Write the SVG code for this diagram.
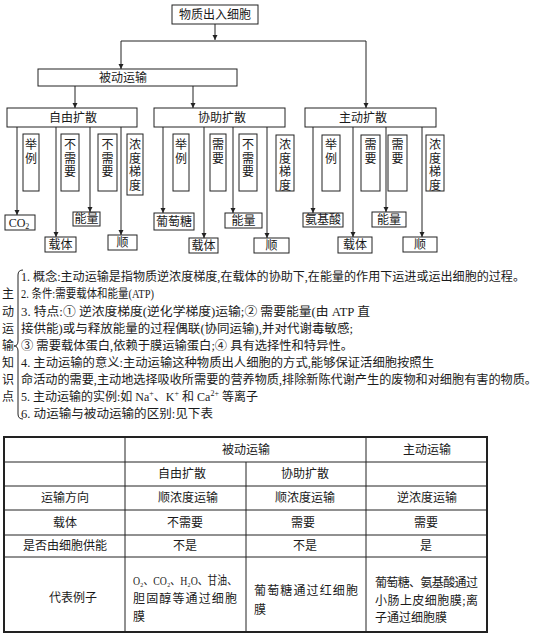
<svg xmlns="http://www.w3.org/2000/svg" width="538" height="639" viewBox="0 0 538 639">
<defs>
<marker id="ah" markerWidth="6" markerHeight="6" refX="5" refY="3" orient="auto" markerUnits="userSpaceOnUse">
<path d="M0,0.5 L5,3 L0,5.5 Z" fill="#222"/>
</marker>
<style>
.bx{fill:#fff;stroke:#222;stroke-width:1}
.ln{fill:none;stroke:#222;stroke-width:1}
.ar{fill:none;stroke:#222;stroke-width:1;marker-end:url(#ah)}
.t{font-family:"Liberation Serif","Noto Sans CJK SC",serif;font-size:12px;fill:#1a1a1a;text-anchor:middle;dominant-baseline:central}
.tl{font-family:"Liberation Serif","Noto Sans CJK SC",serif;font-size:12px;fill:#1a1a1a;dominant-baseline:central}
.tb{stroke:#222;stroke-width:1;fill:none}
</style>
</defs>
<rect width="538" height="639" fill="#fff"/>

<g id="connectors">
<line class="ar" x1="215" y1="24" x2="215" y2="40"/>
<line class="ln" x1="121" y1="41" x2="366" y2="41"/>
<line class="ar" x1="121" y1="41" x2="121" y2="69"/>
<line class="ar" x1="366" y1="41" x2="366" y2="108"/>
<line class="ar" x1="75" y1="86" x2="75" y2="108"/>
<line class="ar" x1="193" y1="86" x2="193" y2="108"/>
<line class="ar" x1="17" y1="127" x2="17" y2="215"/>
<line class="ar" x1="56" y1="127" x2="56" y2="237"/>
<line class="ar" x1="90" y1="127" x2="90" y2="212"/>
<line class="ar" x1="121" y1="127" x2="121" y2="235"/>
<line class="ar" x1="163" y1="127" x2="163" y2="213"/>
<line class="ar" x1="204" y1="127" x2="204" y2="238"/>
<line class="ar" x1="233" y1="127" x2="233" y2="213"/>
<line class="ar" x1="267" y1="127" x2="267" y2="238"/>
<line class="ar" x1="313" y1="127" x2="313" y2="213"/>
<line class="ar" x1="353" y1="127" x2="353" y2="237"/>
<line class="ar" x1="386" y1="127" x2="386" y2="212"/>
<line class="ar" x1="422" y1="127" x2="422" y2="237"/>
</g>

<g id="n-root"><rect class="bx" x="172" y="5" width="86" height="19"/><text class="t" x="215" y="15">物质出入细胞</text></g>
<g id="n-passive"><rect class="bx" x="38" y="69" width="199" height="17"/><text class="t" x="123" y="78">被动运输</text></g>
<g id="n-free"><rect class="bx" x="7" y="108" width="130" height="19"/><text class="t" x="73" y="118">自由扩散</text></g>
<g id="n-facil"><rect class="bx" x="154" y="108" width="131" height="19"/><text class="t" x="222" y="118">协助扩散</text></g>
<g id="n-active"><rect class="bx" x="305" y="108" width="131" height="19"/><text class="t" x="363" y="118">主动扩散</text></g>

<g id="l-free-1"><rect class="bx" x="23" y="134" width="16" height="57"/><text class="t" x="31" y="145">举</text><text class="t" x="31" y="158.5">例</text></g>
<g id="l-free-2"><rect class="bx" x="61" y="134" width="18" height="57"/><text class="t" x="70" y="145">不</text><text class="t" x="70" y="158.5">需</text><text class="t" x="70" y="172">要</text></g>
<g id="l-free-3"><rect class="bx" x="98" y="134" width="19" height="57"/><text class="t" x="107.5" y="145">不</text><text class="t" x="107.5" y="158.5">需</text><text class="t" x="107.5" y="172">要</text></g>
<g id="l-free-4"><rect class="bx" x="127" y="134" width="16" height="61"/><text class="t" x="135" y="145">浓</text><text class="t" x="135" y="158.5">度</text><text class="t" x="135" y="172">梯</text><text class="t" x="135" y="185.5">度</text></g>

<g id="l-fac-1"><rect class="bx" x="173" y="134" width="16" height="57"/><text class="t" x="181" y="145">举</text><text class="t" x="181" y="158.5">例</text></g>
<g id="l-fac-2"><rect class="bx" x="210" y="134" width="16" height="57"/><text class="t" x="218" y="145">需</text><text class="t" x="218" y="158.5">要</text></g>
<g id="l-fac-3"><rect class="bx" x="239" y="134" width="18" height="57"/><text class="t" x="248" y="145">不</text><text class="t" x="248" y="158.5">需</text><text class="t" x="248" y="172">要</text></g>
<g id="l-fac-4"><rect class="bx" x="276" y="135" width="18" height="56"/><text class="t" x="285" y="145">浓</text><text class="t" x="285" y="158.5">度</text><text class="t" x="285" y="172">梯</text><text class="t" x="285" y="185.5">度</text></g>

<g id="l-act-1"><rect class="bx" x="322" y="135" width="18" height="56"/><text class="t" x="331" y="145">举</text><text class="t" x="331" y="158.5">例</text></g>
<g id="l-act-2"><rect class="bx" x="361" y="135" width="19" height="56"/><text class="t" x="370.5" y="145">需</text><text class="t" x="370.5" y="158.5">要</text></g>
<g id="l-act-3"><rect class="bx" x="388" y="135" width="19" height="56"/><text class="t" x="397.5" y="145">需</text><text class="t" x="397.5" y="158.5">要</text></g>
<g id="l-act-4"><rect class="bx" x="426" y="135" width="18" height="56"/><text class="t" x="435" y="145">浓</text><text class="t" x="435" y="158.5">度</text><text class="t" x="435" y="172">梯</text><text class="t" x="435" y="185.5">度</text></g>

<g id="b-co2"><rect class="bx" x="5" y="215" width="30" height="15"/><text class="t" x="19" y="222.5">CO<tspan font-size="8" dy="3">2</tspan></text></g>
<g id="b-carrier1"><rect class="bx" x="45" y="237" width="31" height="15"/><text class="t" x="60.5" y="244.5">载体</text></g>
<g id="b-energy1"><rect class="bx" x="73" y="212" width="27" height="14"/><text class="t" x="86.5" y="219">能量</text></g>
<g id="b-along1"><rect class="bx" x="108" y="235" width="29" height="15"/><text class="t" x="122.5" y="242.5">顺</text></g>
<g id="b-glucose"><rect class="bx" x="154" y="213" width="40" height="17"/><text class="t" x="174" y="221.5">葡萄糖</text></g>
<g id="b-carrier2"><rect class="bx" x="189" y="238" width="29" height="15"/><text class="t" x="203.5" y="245.5">载体</text></g>
<g id="b-energy2"><rect class="bx" x="225" y="213" width="37" height="15"/><text class="t" x="243.5" y="220.5">能量</text></g>
<g id="b-along2"><rect class="bx" x="254" y="238" width="35" height="15"/><text class="t" x="271.5" y="245.5">顺</text></g>
<g id="b-amino"><rect class="bx" x="303" y="213" width="40" height="14"/><text class="t" x="323" y="220">氨基酸</text></g>
<g id="b-carrier3"><rect class="bx" x="338" y="237" width="34" height="16"/><text class="t" x="355" y="245">载体</text></g>
<g id="b-energy3"><rect class="bx" x="372" y="212" width="34" height="15"/><text class="t" x="389" y="219.5">能量</text></g>
<g id="b-along3"><rect class="bx" x="403" y="237" width="34" height="15"/><text class="t" x="420" y="244.5">顺</text></g>

<g id="knowledge">
<text class="t" x="8" y="294">主</text>
<text class="t" x="8" y="312">动</text>
<text class="t" x="8" y="329">运</text>
<text class="t" x="8" y="346">输</text>
<text class="t" x="8" y="363">知</text>
<text class="t" x="8" y="380">识</text>
<text class="t" x="8" y="397">点</text>
<path class="ln" d="M23,270 Q18,270 18,275 L18,341 Q18,346 14,346 Q18,346 18,351 L18,414 Q18,419 23,419"/>
<text class="tl" x="21" y="277" textLength="504" lengthAdjust="spacingAndGlyphs">1. 概念:主动运输是指物质逆浓度梯度,在载体的协助下,在能量的作用下运进或运出细胞的过程。</text>
<text class="tl" x="21" y="294" textLength="133" lengthAdjust="spacingAndGlyphs">2. 条件:需要载体和能量(ATP)</text>
<text class="tl" x="21" y="312" textLength="349" lengthAdjust="spacingAndGlyphs">3. 特点:① 逆浓度梯度(逆化学梯度)运输;② 需要能量(由 ATP 直</text>
<text class="tl" x="21" y="329" textLength="332" lengthAdjust="spacingAndGlyphs">接供能)或与释放能量的过程偶联(协同运输),并对代谢毒敏感;</text>
<text class="tl" x="21" y="346" textLength="332" lengthAdjust="spacingAndGlyphs">③ 需要载体蛋白,依赖于膜运输蛋白;④ 具有选择性和特异性。</text>
<text class="tl" x="21" y="363" textLength="413" lengthAdjust="spacingAndGlyphs">4. 主动运输的意义:主动运输这种物质出人细胞的方式,能够保证活细胞按照生</text>
<text class="tl" x="21" y="380" textLength="516" lengthAdjust="spacingAndGlyphs">命活动的需要,主动地选择吸收所需要的营养物质,排除新陈代谢产生的废物和对细胞有害的物质。</text>
<text class="tl" x="21" y="397">5. 主动运输的实例:如 Na<tspan font-size="8" dy="-4">+</tspan><tspan dy="4">、K</tspan><tspan font-size="8" dy="-4">+</tspan><tspan dy="4"> 和 Ca</tspan><tspan font-size="8" dy="-4">2+</tspan><tspan dy="4"> 等离子</tspan></text>
<text class="tl" x="21" y="414" textLength="192" lengthAdjust="spacingAndGlyphs">6. 动运输与被动运输的区别:见下表</text>
</g>

<g id="table">
<rect x="4" y="437" width="483" height="195" fill="none" stroke="#222" stroke-width="2"/>
<line class="tb" x1="4" y1="462" x2="487" y2="462"/>
<line class="tb" x1="4" y1="486" x2="487" y2="486"/>
<line class="tb" x1="4" y1="510" x2="487" y2="510"/>
<line class="tb" x1="4" y1="535" x2="487" y2="535"/>
<line class="tb" x1="4" y1="557" x2="487" y2="557"/>
<line class="tb" x1="125" y1="437" x2="125" y2="632"/>
<line class="tb" x1="366" y1="437" x2="366" y2="632"/>
<line class="tb" x1="246" y1="462" x2="246" y2="632"/>
<text class="t" x="246" y="449.5">被动运输</text>
<text class="t" x="427" y="449.5">主动运输</text>
<text class="t" x="182" y="474">自由扩散</text>
<text class="t" x="305" y="474">协助扩散</text>
<text class="t" x="65" y="498">运输方向</text>
<text class="t" x="188" y="498">顺浓度运输</text>
<text class="t" x="305" y="498">顺浓度运输</text>
<text class="t" x="427" y="498">逆浓度运输</text>
<text class="t" x="65" y="522.5">载体</text>
<text class="t" x="185" y="522.5">不需要</text>
<text class="t" x="303" y="522.5">需要</text>
<text class="t" x="426" y="522.5">需要</text>
<text class="t" x="65" y="546">是否由细胞供能</text>
<text class="t" x="185" y="546">不是</text>
<text class="t" x="305" y="546">不是</text>
<text class="t" x="426" y="546">是</text>
<text class="t" x="73" y="598">代表例子</text>
<text class="tl" x="133" y="581" textLength="104" lengthAdjust="spacingAndGlyphs">O₂、CO₂、H₂O、甘油、</text>
<text class="tl" x="133" y="599" textLength="104" lengthAdjust="spacing">胆固醇等通过细胞</text>
<text class="tl" x="133" y="617">膜</text>
<text class="tl" x="254" y="591" textLength="104" lengthAdjust="spacing">葡萄糖通过红细胞</text>
<text class="tl" x="254" y="610">膜</text>
<text class="tl" x="375" y="583" textLength="103" lengthAdjust="spacing">葡萄糖、氨基酸通过</text>
<text class="tl" x="375" y="601" textLength="103" lengthAdjust="spacing">小肠上皮细胞膜;离</text>
<text class="tl" x="375" y="618">子通过细胞膜</text>
</g>
</svg>
